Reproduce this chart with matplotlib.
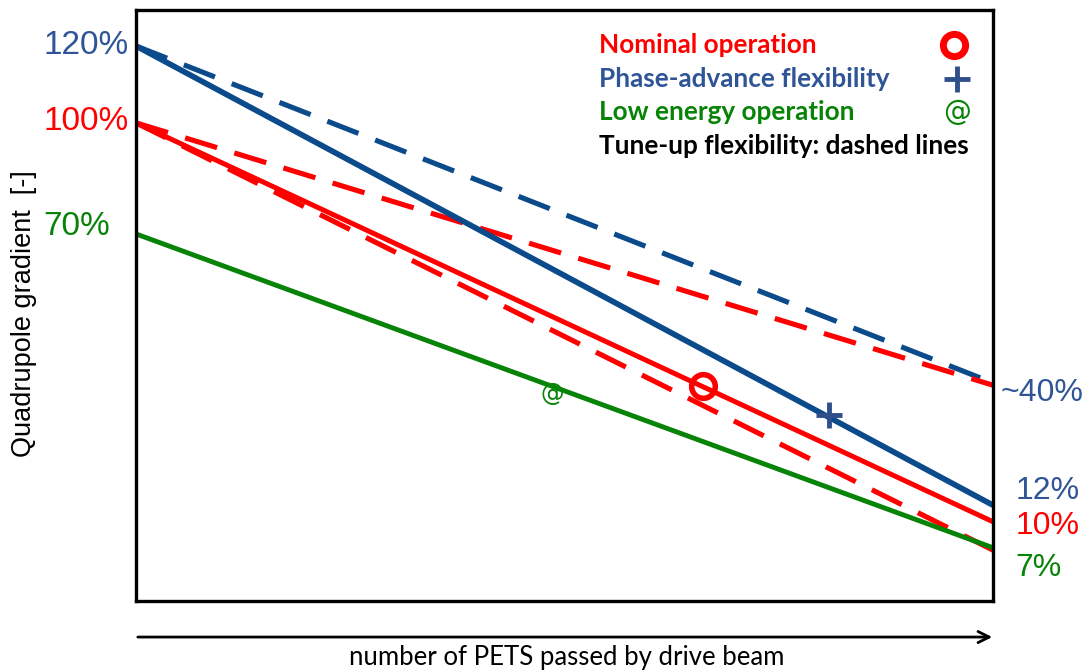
import matplotlib.pyplot as plt
from matplotlib import transforms

# Posicion relativa a lo largo de la linea de PETS (0 = entrada, 1 = salida)
pets = [0.0, 1.0]

# Gradiente (escala visual del esquema, 0 = borde inferior, 100 = borde superior)
nominal = [80.9, 13.4]
phase_adv = [93.9, 16.2]
low_energy = [62.1, 9.0]
tune_blue = [93.9, 36.9]
tune_red_up = [80.9, 36.5]
tune_red_down = [80.9, 8.6]

# Etiquetas de porcentaje
left_labels = ["120%", "100%", "70%"]
left_y = [93.9, 81.2, 63.4]
right_labels = ["~40%", "12%", "10%", "7%"]
right_y = [35.2, 18.6, 12.7, 5.6]

# Marcadores de los puntos de operacion
nominal_pt = (0.662, 36.3)
phase_pt = (0.809, 31.4)
low_pt = (0.486, 35.0)

BLUE = "#0b4a8b"
BLUE_TXT = "#2f5597"
RED = "#ff0000"
GREEN = "#078307"

fig = plt.figure(figsize=(10.89, 6.72), dpi=100)
ax = fig.add_axes([0.1249, 0.1057, 0.787, 0.8795])
ax.set_xlim(0, 1)
ax.set_ylim(0, 100)
ax.set_xticks([])
ax.set_yticks([])
for s in ax.spines.values():
    s.set_linewidth(2.4)

dash = (0, (6.5, 3.5))
ax.plot(pets, tune_blue, color=BLUE, lw=3.7, linestyle=dash, clip_on=False)
ax.plot(pets, tune_red_up, color=RED, lw=3.7, linestyle=dash, clip_on=False)
ax.plot(pets, tune_red_down, color=RED, lw=3.7, linestyle=dash, clip_on=False)
ax.plot(pets, phase_adv, color=BLUE, lw=4.1, clip_on=False, solid_capstyle="butt")
ax.plot(pets, nominal, color=RED, lw=3.6, clip_on=False, solid_capstyle="butt")
ax.plot(pets, low_energy, color=GREEN, lw=3.5, clip_on=False, solid_capstyle="butt")

# Puntos de operacion
ax.plot(*nominal_pt, marker="o", markersize=17, markerfacecolor="none",
        markeredgecolor=RED, markeredgewidth=4, clip_on=False)
ax.plot(*phase_pt, marker="+", markersize=19, markeredgecolor="#2f4f8a",
        markeredgewidth=3.5, clip_on=False)
ax.text(*low_pt, "@", color=GREEN, fontsize=17, family="DejaVu Sans",
        ha="center", va="center")

# Etiquetas izquierda (x en figura, y en datos) y derecha
izq = transforms.blended_transform_factory(fig.transFigure, ax.transData)
left_colors = [BLUE_TXT, RED, GREEN]
for lab, y, c in zip(left_labels, left_y, left_colors):
    ax.text(0.0395, y, lab, color=c, fontsize=24, family="Liberation Sans",
            ha="left", va="center", transform=izq)
right_colors = [BLUE_TXT, BLUE_TXT, RED, GREEN]
right_x = [1.0085, 1.0265, 1.0265, 1.0265]
for lab, x, y, c in zip(right_labels, right_x, right_y, right_colors):
    ax.text(x, y, lab, color=c, fontsize=23, family="Liberation Sans",
            ha="left", va="center", transform=ax.get_yaxis_transform())

# Leyenda manual
legend_txt = ["Nominal operation", "Phase-advance flexibility",
              "Low energy operation", "Tune-up flexibility: dashed lines"]
legend_col = [RED, BLUE_TXT, GREEN, "black"]
legend_y = [94.0, 88.3, 82.7, 77.0]
for t, c, y in zip(legend_txt, legend_col, legend_y):
    ax.text(0.540, y, t, color=c, fontsize=18.8, fontweight="bold",
            family="Lato", ha="left", va="center")
ax.plot(0.955, 94.0, marker="o", markersize=16, markerfacecolor="none",
        markeredgecolor=RED, markeredgewidth=5)
ax.plot(0.958, 88.3, marker="+", markersize=19, markeredgecolor="#2f4f8a",
        markeredgewidth=3.5)
ax.text(0.958, 82.7, "@", color=GREEN, fontsize=20, family="DejaVu Sans",
        ha="center", va="center")

# Ejes dibujados a mano
fig.text(0.022, 0.534, "Quadrupole gradient  [-]", rotation=90,
         fontsize=19.5, family="Liberation Sans", ha="center", va="center")
ax.annotate("", xy=(0.9137, 0.052), xytext=(0.124, 0.052),
            xycoords="figure fraction", textcoords="figure fraction",
            arrowprops=dict(arrowstyle="->", lw=2, color="black",
                            mutation_scale=20))
fig.text(0.52, 0.022, "number of PETS passed by drive beam", fontsize=18.5,
         family="Lato", ha="center", va="center")

plt.savefig("out.png", dpi=100)
